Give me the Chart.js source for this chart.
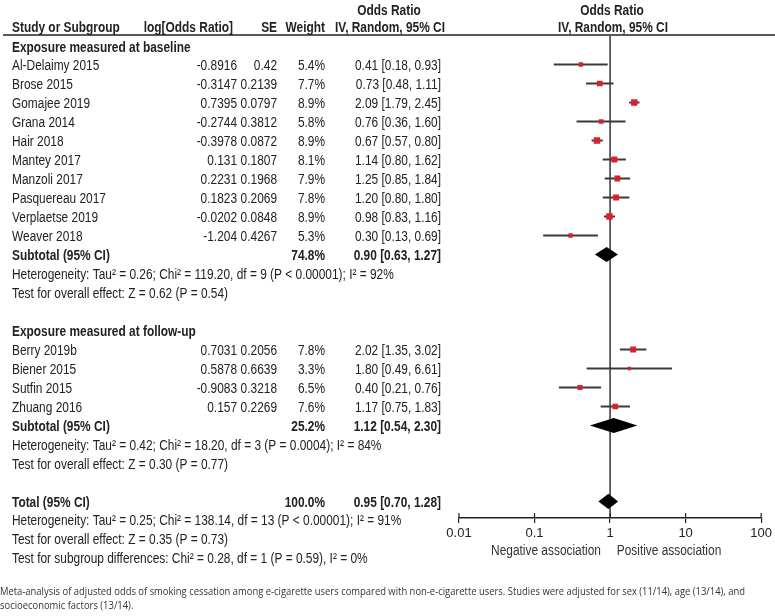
<!DOCTYPE html>
<html>
<head>
<meta charset="utf-8">
<script src="https://cdn.jsdelivr.net/npm/chart.js@4.4.0/dist/chart.umd.min.js"></script>
<style>
  body { margin: 0; background: #fff; }
</style>
</head>
<body>
<canvas id="forest" width="775" height="616"></canvas>
<script>
// studies measured at baseline
let studies1 = ['Al-Delaimy 2015','Brose 2015','Gomajee 2019','Grana 2014','Hair 2018','Mantey 2017','Manzoli 2017','Pasquereau 2017','Verplaetse 2019','Weaver 2018'];
let logOR1 = ['-0.8916','-0.3147','0.7395','-0.2744','-0.3978','0.131','0.2231','0.1823','-0.0202','-1.204'];
let se1 = ['0.42','0.2139','0.0797','0.3812','0.0872','0.1807','0.1968','0.2069','0.0848','0.4267'];
let weight1 = [5.4,7.7,8.9,5.8,8.9,8.1,7.9,7.8,8.9,5.3];
let or1 = [0.41,0.73,2.09,0.76,0.67,1.14,1.25,1.20,0.98,0.30];
let lo1 = [0.18,0.48,1.79,0.36,0.57,0.80,0.85,0.80,0.83,0.13];
let hi1 = [0.93,1.11,2.45,1.60,0.80,1.62,1.84,1.80,1.16,0.69];

// studies measured at follow-up
let studies2 = ['Berry 2019b','Biener 2015','Sutfin 2015','Zhuang 2016'];
let logOR2 = ['0.7031','0.5878','-0.9083','0.157'];
let se2 = ['0.2056','0.6639','0.3218','0.2269'];
let weight2 = [7.8,3.3,6.5,7.6];
let or2 = [2.02,1.80,0.40,1.17];
let lo2 = [1.35,0.49,0.21,0.75];
let hi2 = [3.02,6.61,0.76,1.83];

// pooled estimates: subtotal baseline, subtotal follow-up, total
let pooledWeight = ['74.8%','25.2%','100.0%'];
let pooledOR = [0.90,1.12,0.95];
let pooledLo = [0.63,0.54,0.70];
let pooledHi = [1.27,2.30,1.28];

let hetText = [
  'Heterogeneity: Tau² = 0.26; Chi² = 119.20, df = 9 (P < 0.00001); I² = 92%',
  'Heterogeneity: Tau² = 0.42; Chi² = 18.20, df = 3 (P = 0.0004); I² = 84%',
  'Heterogeneity: Tau² = 0.25; Chi² = 138.14, df = 13 (P < 0.00001); I² = 91%'
];
let effectText = [
  'Test for overall effect: Z = 0.62 (P = 0.54)',
  'Test for overall effect: Z = 0.30 (P = 0.77)',
  'Test for overall effect: Z = 0.35 (P = 0.73)'
];
let subgroupText = 'Test for subgroup differences: Chi² = 0.28, df = 1 (P = 0.59), I² = 0%';
let xTicks = [0.01, 0.1, 1, 10, 100];

// row layout (one unit per table row)
const rows1 = studies1.map((s, i) => i);
const sub1Row = studies1.length;
const group2Row = sub1Row + 4;
const rows2 = studies2.map((s, i) => group2Row + 1 + i);
const sub2Row = group2Row + studies2.length + 1;
const totalRow = sub2Row + 4;
const pooledRows = [sub1Row, sub2Row, totalRow];

const allOR = or1.concat(or2);
const allLo = lo1.concat(lo2);
const allHi = hi1.concat(hi2);
const allW = weight1.concat(weight2);
const allRows = rows1.concat(rows2);

// CI whiskers as one broken line
const ciData = [];
allRows.forEach((r, i) => {
  ciData.push({x: allLo[i], y: r}, {x: allHi[i], y: r}, {x: allHi[i], y: null});
});

const SX = 0.85;
const FONT = '"Liberation Sans", Arial, sans-serif';

function txt(ctx, s, x, y, align, bold, size, color) {
  ctx.save();
  ctx.translate(x, y);
  ctx.scale(SX, 1);
  ctx.font = (bold ? 'bold ' : '') + (size || 14) + 'px ' + FONT;
  ctx.textAlign = align || 'left';
  ctx.textBaseline = 'middle';
  ctx.fillStyle = color || '#222';
  ctx.fillText(s, 0, 0);
  ctx.restore();
}

const forestPlugin = {
  id: 'forest',
  beforeDatasetsDraw(chart) {
    const {ctx, chartArea, scales: {x}} = chart;
    const px = x.getPixelForValue(1);
    ctx.save();
    ctx.strokeStyle = '#333';
    ctx.lineWidth = 1.5;
    ctx.beginPath();
    ctx.moveTo(px, chartArea.top);
    ctx.lineTo(px, chartArea.bottom);
    ctx.stroke();
    // upward part of the axis ticks
    ctx.strokeStyle = '#222';
    ctx.lineWidth = 1.2;
    xTicks.forEach(v => {
      const tx = x.getPixelForValue(v);
      ctx.beginPath();
      ctx.moveTo(tx, chartArea.bottom - 5);
      ctx.lineTo(tx, chartArea.bottom);
      ctx.stroke();
    });
    ctx.restore();
  },
  afterDatasetsDraw(chart) {
    const {ctx, scales: {x, y}} = chart;
    // diamonds
    ctx.save();
    ctx.fillStyle = '#000';
    pooledRows.forEach((r, i) => {
      const yc = y.getPixelForValue(r);
      const h = y.getPixelForValue(r + 0.4) - yc;
      ctx.beginPath();
      ctx.moveTo(x.getPixelForValue(pooledLo[i]), yc);
      ctx.lineTo(x.getPixelForValue(pooledOR[i]), yc - h);
      ctx.lineTo(x.getPixelForValue(pooledHi[i]), yc);
      ctx.lineTo(x.getPixelForValue(pooledOR[i]), yc + h);
      ctx.closePath();
      ctx.fill();
    });
    ctx.restore();
  },
  afterDraw(chart) {
    const {ctx, scales: {y}} = chart;
    const py = r => y.getPixelForValue(r) + 2;
    const fmt = v => v.toFixed(2);
    const ciStr = (o, l, h) => fmt(o) + ' [' + fmt(l) + ', ' + fmt(h) + ']';

    // header
    txt(ctx, 'Odds Ratio', 389, 11, 'center', true);
    txt(ctx, 'Odds Ratio', 612, 11, 'center', true);
    txt(ctx, 'Study or Subgroup', 12, 28, 'left', true);
    txt(ctx, 'log[Odds Ratio]', 233, 28, 'right', true);
    txt(ctx, 'SE', 277, 28, 'right', true);
    txt(ctx, 'Weight', 325, 28, 'right', true);
    txt(ctx, 'IV, Random, 95% CI', 390, 28, 'center', true);
    txt(ctx, 'IV, Random, 95% CI', 613, 28, 'center', true);
    ctx.save();
    ctx.strokeStyle = '#222';
    ctx.lineWidth = 1.5;
    ctx.beginPath();
    ctx.moveTo(3, 35);
    ctx.lineTo(775, 35);
    ctx.stroke();
    ctx.restore();

    // group 1
    txt(ctx, 'Exposure measured at baseline', 12, py(-1) + 1, 'left', true);
    studies1.forEach((s, i) => {
      const yy = py(rows1[i]);
      txt(ctx, s, 12, yy);
      txt(ctx, logOR1[i], 237, yy, 'right');
      txt(ctx, se1[i], 277, yy, 'right');
      txt(ctx, weight1[i].toFixed(1) + '%', 325, yy, 'right');
      txt(ctx, ciStr(or1[i], lo1[i], hi1[i]), 441, yy, 'right');
    });
    txt(ctx, 'Subtotal (95% CI)', 12, py(sub1Row), 'left', true);
    txt(ctx, pooledWeight[0], 325, py(sub1Row), 'right', true);
    txt(ctx, ciStr(pooledOR[0], pooledLo[0], pooledHi[0]), 441, py(sub1Row), 'right', true);
    txt(ctx, hetText[0], 12, py(sub1Row + 1));
    txt(ctx, effectText[0], 12, py(sub1Row + 2));

    // group 2
    txt(ctx, 'Exposure measured at follow-up', 12, py(group2Row), 'left', true);
    studies2.forEach((s, i) => {
      const yy = py(rows2[i]);
      txt(ctx, s, 12, yy);
      txt(ctx, logOR2[i], 237, yy, 'right');
      txt(ctx, se2[i], 277, yy, 'right');
      txt(ctx, weight2[i].toFixed(1) + '%', 325, yy, 'right');
      txt(ctx, ciStr(or2[i], lo2[i], hi2[i]), 441, yy, 'right');
    });
    txt(ctx, 'Subtotal (95% CI)', 12, py(sub2Row), 'left', true);
    txt(ctx, pooledWeight[1], 325, py(sub2Row), 'right', true);
    txt(ctx, ciStr(pooledOR[1], pooledLo[1], pooledHi[1]), 441, py(sub2Row), 'right', true);
    txt(ctx, hetText[1], 12, py(sub2Row + 1));
    txt(ctx, effectText[1], 12, py(sub2Row + 2));

    // total
    txt(ctx, 'Total (95% CI)', 12, py(totalRow), 'left', true);
    txt(ctx, pooledWeight[2], 325, py(totalRow), 'right', true);
    txt(ctx, ciStr(pooledOR[2], pooledLo[2], pooledHi[2]), 441, py(totalRow), 'right', true);
    txt(ctx, hetText[2], 12, py(totalRow + 1) - 1);
    txt(ctx, effectText[2], 12, py(totalRow + 2) - 1);
    txt(ctx, subgroupText, 12, py(totalRow + 3) - 1);

    // axis captions
    txt(ctx, 'Negative association', 546, 551, 'center', false, 14, '#333');
    txt(ctx, 'Positive association', 669, 551, 'center', false, 14, '#333');

    // figure caption
    ctx.save();
    ctx.font = '11px "Open Sans", sans-serif';
    ctx.fillStyle = '#333';
    ctx.textBaseline = 'middle';
    const cap1 = 'Meta-analysis of adjusted odds of smoking cessation among e-cigarette users compared with non-e-cigarette users. Studies were adjusted for sex (11/14), age (13/14), and';
    const k = 745 / ctx.measureText(cap1).width;
    ctx.scale(k, 1);
    ctx.fillText(cap1, 0, 592);
    ctx.fillText('socioeconomic factors (13/14).', 0, 606);
    ctx.restore();
  }
};

const ctx = document.getElementById('forest').getContext('2d');

const forestChart = new Chart(ctx, {
  type: 'line',
  data: {
    datasets: [{
        type: 'line',
        label: 'CI',
        data: ciData,
        borderColor: '#3a3a3a',
        borderWidth: 2,
        pointRadius: 0,
        spanGaps: false,
        order: 2
      },
      {
        type: 'scatter',
        label: 'Odds Ratio',
        data: allOR.map((v, i) => ({x: v, y: allRows[i]})),
        pointStyle: 'rect',
        pointRadius: allW.map(w => (1.5 + 0.55 * w) / Math.SQRT2),
        backgroundColor: '#da2128',
        borderColor: '#da2128',
        borderWidth: 0,
        order: 1
      }]
  },
  options: {
    responsive: false,
    animation: false,
    devicePixelRatio: 1,
    layout: {
      padding: {left: 459, right: 12, top: 36, bottom: 0}
    },
    scales: {
      x: {
        type: 'logarithmic',
        min: 0.01,
        max: 100,
        afterBuildTicks: s => { s.ticks = xTicks.map(v => ({value: v})); },
        afterFit: s => { s.height = 98; },
        border: {color: '#222', width: 1.5},
        grid: {drawOnChartArea: false, tickLength: 5, color: '#222', lineWidth: 1.2},
        ticks: {
          autoSkip: false,
          maxRotation: 0,
          padding: 3,
          color: '#222',
          font: {size: 13, family: FONT},
          callback: v => String(v)
        }
      },
      y: {
        type: 'linear',
        display: false,
        reverse: true,
        min: -1.5,
        max: 23.87
      }
    },
    plugins: {
      legend: {display: false},
      tooltip: {enabled: false}
    }
  },
  plugins: [forestPlugin]
});
</script>
</body>
</html>
